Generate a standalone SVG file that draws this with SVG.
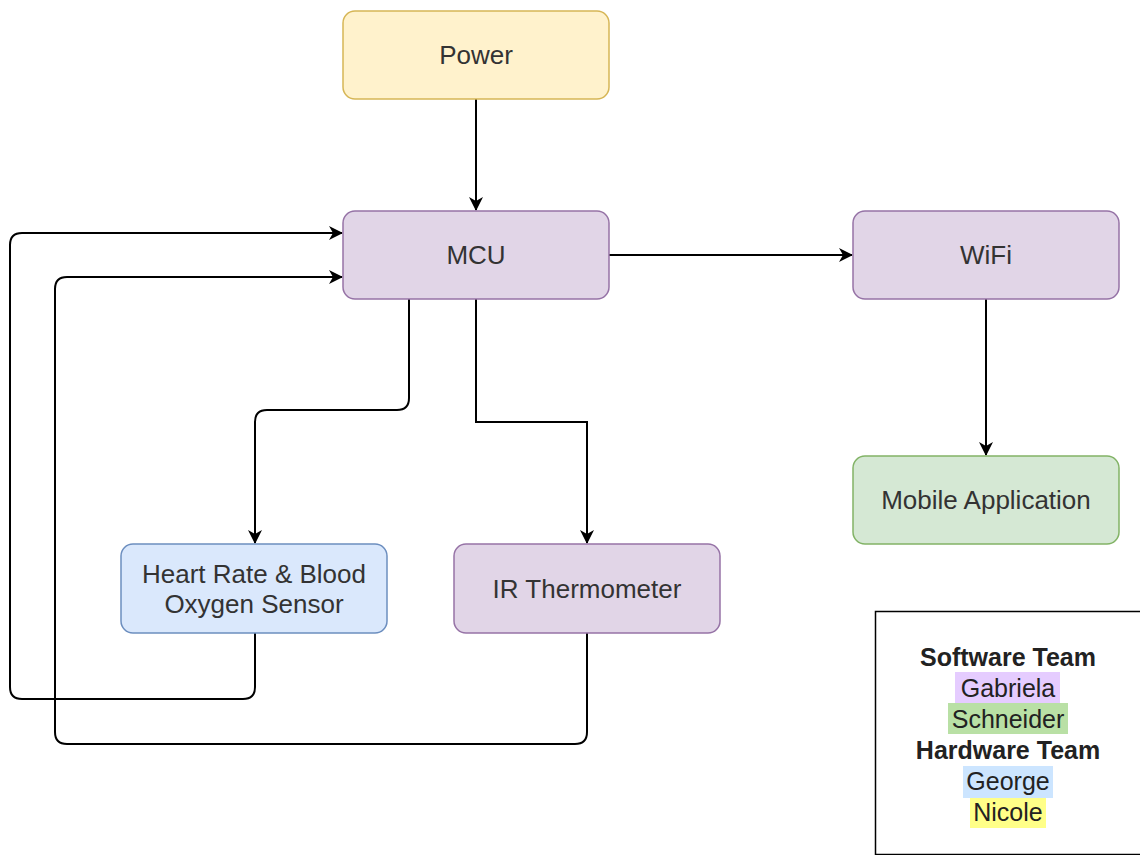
<svg xmlns="http://www.w3.org/2000/svg" width="1140" height="855" viewBox="0 0 1140 855">
<style>
.lbl{font-family:"Liberation Sans",Arial,sans-serif;font-size:26px;fill:#333;text-anchor:middle;dominant-baseline:central}
.leg{font-family:"Liberation Sans",Arial,sans-serif;font-size:25px;fill:#222;text-anchor:middle}
.b{font-weight:bold}
.c{fill:none;stroke:#000;stroke-width:2}
</style>
<defs>
<marker id="ah" viewBox="0 0 14 14" refX="13" refY="7" markerWidth="14" markerHeight="14" markerUnits="userSpaceOnUse" orient="auto">
<path d="M0,0 L14,7 L0,14 L4,7 Z" fill="#000"/>
</marker>
</defs>
<rect width="1140" height="855" fill="#fff"/>
<g id="connectors">
<path class="c" d="M476,99 V210" marker-end="url(#ah)"/>
<path class="c" d="M609,255 H852" marker-end="url(#ah)"/>
<path class="c" d="M986,299 V455" marker-end="url(#ah)"/>
<path class="c" d="M409,299 V398 Q409,410 397,410 H267 Q255,410 255,422 V543" marker-end="url(#ah)"/>
<path class="c" d="M476,299 V422 H587 V543" marker-end="url(#ah)"/>
<path class="c" d="M255,633 V687 Q255,699 243,699 H22 Q10,699 10,687 V245 Q10,233 22,233 H342" marker-end="url(#ah)"/>
<path class="c" d="M587,633 V732 Q587,744 575,744 H67 Q55,744 55,732 V289 Q55,277 67,277 H342" marker-end="url(#ah)"/>
</g>
<g id="power">
<rect x="343" y="11" width="266" height="88" rx="12" fill="#fff2cc" stroke="#d6b656" stroke-width="1.5"/>
<text class="lbl" x="476" y="55">Power</text>
</g>
<g id="mcu">
<rect x="343" y="211" width="266" height="88" rx="12" fill="#e1d5e7" stroke="#9673a6" stroke-width="1.5"/>
<text class="lbl" x="476" y="255">MCU</text>
</g>
<g id="wifi">
<rect x="853" y="211" width="266" height="88" rx="12" fill="#e1d5e7" stroke="#9673a6" stroke-width="1.5"/>
<text class="lbl" x="986" y="255">WiFi</text>
</g>
<g id="mobile">
<rect x="853" y="456" width="266" height="88" rx="12" fill="#d5e8d4" stroke="#82b366" stroke-width="1.5"/>
<text class="lbl" x="986" y="500">Mobile Application</text>
</g>
<g id="heartrate">
<rect x="121" y="544" width="266" height="89" rx="12" fill="#dae8fc" stroke="#6c8ebf" stroke-width="1.5"/>
<text class="lbl" x="254" y="574">Heart Rate &amp; Blood</text>
<text class="lbl" x="254" y="604">Oxygen Sensor</text>
</g>
<g id="irthermo">
<rect x="454" y="544" width="266" height="89" rx="12" fill="#e1d5e7" stroke="#9673a6" stroke-width="1.5"/>
<text class="lbl" x="587" y="589">IR Thermometer</text>
</g>
<g id="legend">
<rect x="875.5" y="611.5" width="280" height="243" fill="#fff" stroke="#000" stroke-width="1.5"/>
<rect x="955" y="672" width="105" height="31" fill="#e5ccff"/>
<rect x="948" y="703" width="120" height="31" fill="#b9e0a5"/>
<rect x="963" y="766" width="90" height="32" fill="#cce5ff"/>
<rect x="970" y="798" width="76" height="30" fill="#ffff88"/>
<text class="leg b" x="1008" y="666">Software Team</text>
<text class="leg" x="1008" y="697">Gabriela</text>
<text class="leg" x="1008" y="728">Schneider</text>
<text class="leg b" x="1008" y="759">Hardware Team</text>
<text class="leg" x="1008" y="790">George</text>
<text class="leg" x="1008" y="821">Nicole</text>
</g>
</svg>
